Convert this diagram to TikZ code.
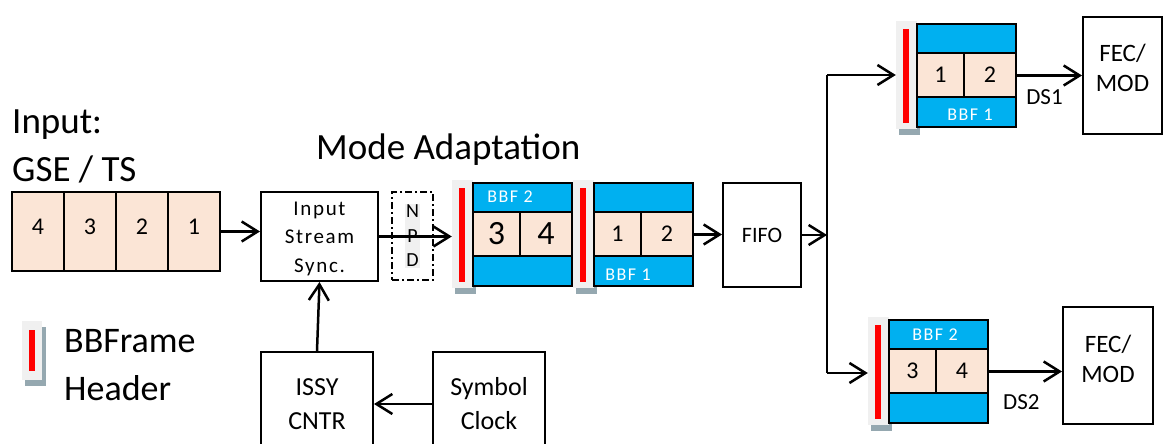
\documentclass[tikz,border=0pt]{standalone}
\usepackage{fontspec}
\setmainfont{Carlito}
\newfontfamily\widefont[LetterSpace=8]{Carlito}
\usetikzlibrary{arrows.meta}

\definecolor{bbfblue}{RGB}{0,176,240}
\definecolor{peach}{RGB}{251,229,214}
\definecolor{hdrgray}{RGB}{240,240,240}
\definecolor{hdrshadow}{RGB}{149,168,176}
\newcommand{\pxsize}[2]{\fontsize{#1}{#2}\selectfont}

\begin{document}
\begin{tikzpicture}[x=1pt,y=-1pt,>={Straight Barb[length=16pt,width=20pt]},
    box/.style={draw,line width=2pt,fill=white,align=center,inner sep=0pt},
    cell/.style={draw,line width=2.5pt,fill=peach,minimum width=52pt,minimum height=79pt,inner sep=0pt},
    caption/.style={anchor=base west,inner sep=0pt,font=\pxsize{37}{37}},
    link/.style={->,line width=2.5pt},
    pics/bbf/.style n args={6}{code={
      \fill[hdrshadow] (3,6) rectangle (24,114);
      \fill[hdrgray] (0,0) rectangle (21,108);
      \fill[red] (6.5,8) rectangle (12.5,102);
      \node[inner sep=0pt,minimum width=21pt,minimum height=108pt] (-hdr) at (10.5,54) {};
      \draw[line width=2.5pt,fill=bbfblue] (21,3) rectangle (120,106);
      \draw[line width=2.5pt,fill=peach] (21,32) rectangle (120,76);
      \draw[line width=2.5pt] (68,32) -- (68,76);
      \node[inner sep=0pt,minimum width=99pt,minimum height=103pt] (-frame) at (70.5,54.5) {};
      \node[font=\pxsize{#6}{#6}] (-left) at (44.5,54) {#1};
      \node[font=\pxsize{#6}{#6}] (-right) at (94,54) {#2};
      \node[font=\widefont\pxsize{18}{18},text=white] (-label) at (#5,#4) {#3};
    }}]
  \clip (0,0) rectangle (1163,444);
  \node[caption] (inlbl) at (12,133) {Input:};
  \node[caption] (gselbl) at (12,181) {GSE / TS};
  \foreach \n/\x in {4/38,3/90,2/142,1/194}{
    \node[cell] (in\n) at (\x,231.5) {};
    \node[font=\pxsize{24}{24}] (in\n txt) at ([yshift=5pt]in\n.center) {\n};
  }
  \node[caption] (modelbl) at (316,159) {Mode Adaptation};

  \node[box,minimum width=117pt,minimum height=89pt] (sync) at (319.5,236.5) {};
  \node[align=center,font=\widefont\pxsize{21}{28.5}] (synctxt) at ([yshift=-2pt]sync.center) {Input\\Stream\\Sync.};
  \draw[link] (in1.east) -- (sync.west |- in1.east);
  \node[box,dash pattern=on 7pt off 3pt on 2pt off 3pt,minimum width=41pt,minimum height=88pt] (npd) at (412.5,236) {};
  \node[fill=hdrgray,inner sep=1.5pt,align=center,font=\pxsize{20}{24.5}] (npdtxt) at (npd) {N\\P\\D};

  \pic (bA) at (452,180) {bbf={3}{4}{BBF 2}{17}{58}{34}};
  \pic (bB) at (573,180) {bbf={1}{2}{BBF 1}{95}{55}{24}};
  \draw[link] (sync.east) -- (sync.east -| bA-hdr.west);

  \node[box,minimum width=78pt,minimum height=104pt,font=\pxsize{22}{22}] (fifo) at (762,235) {FIFO};
  \draw[link] (bB-frame.east) -- (bB-frame.east -| fifo.west);
  \coordinate (split) at (827,235);
  \coordinate (upfork) at (827,75);
  \coordinate (lowfork) at (827,373);
  \draw[link] (fifo.east) -- (split);
  \draw[line width=2.5pt] (upfork) -- (lowfork);

  \pic (bT) at (896,21) {bbf={1}{2}{BBF 1}{94}{74}{24}};
  \pic (bL) at (868,317) {bbf={3}{4}{BBF 2}{18}{67}{24}};
  \draw[link] (upfork) -- (upfork -| bT-hdr.west);
  \draw[link] (lowfork) -- (lowfork -| bL-hdr.west);

  \node[box,minimum width=79pt,minimum height=117pt] (fecA) at (1122.5,75.5) {};
  \node[align=center,font=\pxsize{25}{30}] (fecAtxt) at ([yshift=8pt]fecA.center) {FEC/\\MOD};
  \node[box,minimum width=90pt,minimum height=117pt] (fecB) at (1108,365.5) {};
  \node[align=center,font=\pxsize{25}{30}] (fecBtxt) at ([yshift=7pt]fecB.center) {FEC/\\MOD};
  \draw[link] (bT-frame.east) -- (bT-frame.east -| fecA.west)
    node[pos=.43,below=13pt,inner sep=0pt,font=\pxsize{23}{23}] (ds1) {DS1};
  \draw[link] (bL-frame.east) -- (bL-frame.east -| fecB.west)
    node[pos=.45,below=22pt,inner sep=0pt,font=\pxsize{23}{23}] (ds2) {DS2};

  \node[box,minimum width=112pt,minimum height=104pt,font=\pxsize{26}{34}] (issy) at (317,404) {ISSY\\CNTR};
  \node[box,minimum width=112pt,minimum height=104pt,font=\pxsize{26}{34}] (symclk) at (489,404) {Symbol\\Clock};
  \draw[link] (symclk.west) -- (issy.east);
  \draw[link] (issy.north) -- (sync.south);

  \fill[hdrshadow] (25,327) rectangle (46,386);
  \fill[hdrgray] (22,321) rectangle (42,380);
  \fill[red] (29,330) rectangle (35,371);
  \node[caption,font=\pxsize{36}{36}] (bbflbl) at (64,352) {BBFrame};
  \node[caption,font=\pxsize{36}{36}] (hdrlbl) at (64,400) {Header};
\end{tikzpicture}
\end{document}
